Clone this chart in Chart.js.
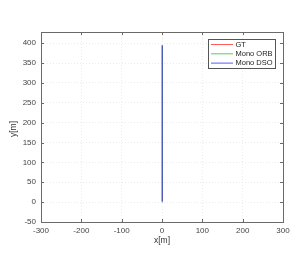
<!DOCTYPE html>
<html><head><meta charset="utf-8">
<script src="https://cdn.jsdelivr.net/npm/chart.js@4"></script>
<style>html,body{margin:0;padding:0;background:#fff}</style>
</head><body>
<canvas id="c" width="305" height="273" style="width:305px;height:273px;display:block"></canvas>
<script>
const seriesNames=["GT","Mono ORB","Mono DSO"];
const gtX=[0,0.2,0.4,0.5,0.7,0.9];
const gtY=[0,80,160,240,320,395];
const orbX=[0.1,0.3,0.4,0.6,0.8,1.0];
const orbY=[0,80,160,240,320,394];
const dsoX=[0.2,0.3,0.5,0.6,0.8,1.0];
const dsoY=[3,80,160,240,320,394];
const xTicks=[-300,-200,-100,0,100,200,300];
const yTicks=[-50,0,50,100,150,200,250,300,350,400];
const colors=["#ff3030","#30c030","#3030ff"];
const xTitle="x[m]", yTitle="y[m]";

const pts=(xs,ys)=>xs.map((x,i)=>({x:x,y:ys[i]}));
const AX="#6a6a6a";
const FONT="'Liberation Sans', Arial, sans-serif";

const framePlugin={
  id:'frame',
  afterDatasetsDraw(chart){
    const {ctx,chartArea:a,scales}=chart;
    ctx.save();
    ctx.strokeStyle=AX;ctx.lineWidth=1;
    ctx.strokeRect(Math.round(a.left)+0.5,Math.round(a.top)+0.5,Math.round(a.right-a.left),Math.round(a.bottom-a.top));
    const L=3;
    ctx.beginPath();
    xTicks.forEach(v=>{const x=Math.round(scales.x.getPixelForValue(v))+0.5;
      ctx.moveTo(x,a.bottom);ctx.lineTo(x,a.bottom-L);ctx.moveTo(x,a.top);ctx.lineTo(x,a.top+L);});
    yTicks.forEach(v=>{const y=Math.round(scales.y.getPixelForValue(v))+0.5;
      ctx.moveTo(a.left,y);ctx.lineTo(a.left+L,y);ctx.moveTo(a.right,y);ctx.lineTo(a.right-L,y);});
    ctx.stroke();
    // axis titles
    ctx.fillStyle="#333";ctx.font="8.5px "+FONT;ctx.textAlign="center";ctx.textBaseline="middle";
    ctx.fillText(xTitle,(a.left+a.right)/2,241);
    ctx.save();ctx.translate(14,129);ctx.rotate(-Math.PI/2);ctx.fillText(yTitle,0,0);ctx.restore();
    // legend
    const bx=208.5,by=39.5,bw=67,bh=29;
    ctx.fillStyle="#fff";ctx.fillRect(bx,by,bw,bh);
    ctx.strokeStyle="#555";ctx.lineWidth=1;ctx.strokeRect(bx,by,bw,bh);
    ctx.font="7.5px "+FONT;ctx.textBaseline="middle";ctx.textAlign="left";
    chart.data.datasets.forEach((ds,i)=>{
      const y=44.5+i*9.3;
      ctx.strokeStyle=ds.borderColor;ctx.lineWidth=0.8;
      ctx.beginPath();ctx.moveTo(211,y);ctx.lineTo(233,y);ctx.stroke();
      ctx.fillStyle="#222";ctx.fillText(ds.label,235.5,y);
    });
    ctx.restore();
  }
};

new Chart(document.getElementById('c'),{
  type:'scatter',
  data:{datasets:[
    {label:seriesNames[0],data:pts(gtX,gtY),borderColor:colors[0],showLine:true,pointRadius:0,borderWidth:0.8,order:3},
    {label:seriesNames[1],data:pts(orbX,orbY),borderColor:colors[1],showLine:true,pointRadius:0,borderWidth:0.8,order:2},
    {label:seriesNames[2],data:pts(dsoX,dsoY),borderColor:colors[2],showLine:true,pointRadius:0,borderWidth:0.8,order:1}
  ]},
  options:{
    responsive:false,animation:false,devicePixelRatio:1,
    layout:{padding:{top:32,right:22,left:0,bottom:0}},
    plugins:{legend:{display:false},tooltip:{enabled:false}},
    scales:{
      x:{type:'linear',min:-300,max:300,
        afterBuildTicks(s){s.ticks=xTicks.map(v=>({value:v}));},
        afterFit(s){s.height=51;},
        ticks:{font:{size:8,family:FONT},color:"#444",padding:4,maxRotation:0},
        grid:{color:"#e2e2e2",lineWidth:0.7,drawTicks:false},
        border:{display:false,dash:[1,2]},
        title:{display:false}
      },
      y:{type:'linear',min:-50,max:428,
        afterBuildTicks(s){s.ticks=yTicks.map(v=>({value:v}));},
        afterFit(s){s.width=41;},
        ticks:{font:{size:8,family:FONT},color:"#444",padding:5},
        grid:{color:"#e2e2e2",lineWidth:0.7,drawTicks:false},
        border:{display:false,dash:[1,2]},
        title:{display:false}
      }
    }
  },
  plugins:[framePlugin]
});
</script>
</body></html>
